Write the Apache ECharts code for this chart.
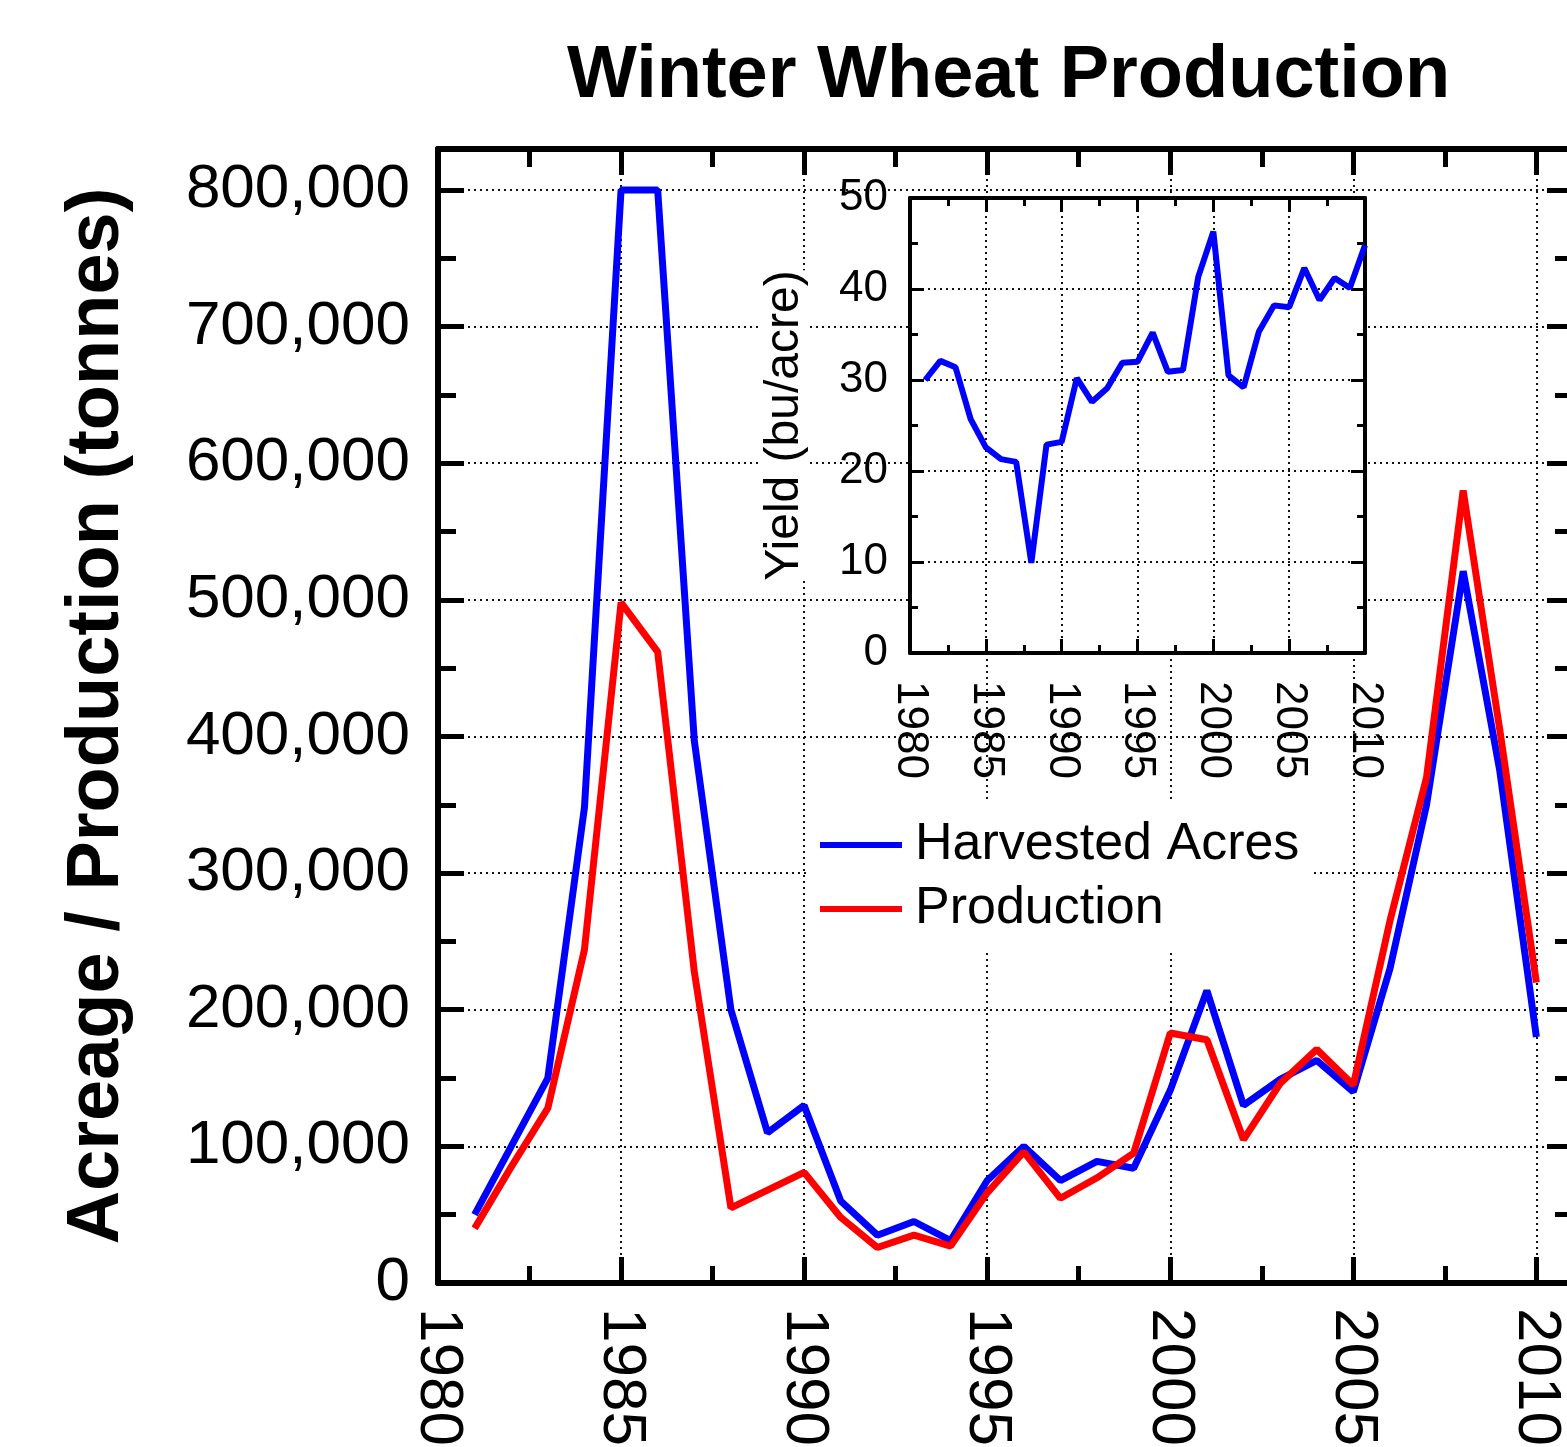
<!DOCTYPE html>
<html>
<head>
<meta charset="utf-8">
<title>Winter Wheat Production</title>
<script src="https://cdn.jsdelivr.net/npm/echarts@6/dist/echarts.min.js"></script>
<style>
  html, body { margin: 0; padding: 0; background: #fff; }
  #main { width: 1567px; height: 1447px; }
</style>
</head>
<body>
<div id="main"></div>
<script>
// data
const years = [1981, 1982, 1983, 1984, 1985, 1986, 1987, 1988, 1989, 1990,
               1991, 1992, 1993, 1994, 1995, 1996, 1997, 1998, 1999, 2000,
               2001, 2002, 2003, 2004, 2005, 2006, 2007, 2008, 2009, 2010];
const harvestedAcres = [50000, 100000, 150000, 348000, 800000, 800000, 397000, 200000, 110000, 130000,
                        60000, 35000, 45000, 31000, 75000, 100000, 75000, 89000, 84000, 141000,
                        214000, 130000, 149000, 163000, 140000, 230000, 350000, 521000, 375000, 180000];
const production = [40000, 85000, 128000, 244000, 498000, 462000, 228000, 55000, 68000, 81000,
                    48000, 26000, 35000, 27000, 66000, 96000, 62000, 77000, 95000, 183000,
                    178000, 105000, 146000, 171000, 145000, 265000, 370000, 580000, 405000, 220000];
const yieldBuAcre = [30.0, 32.1, 31.4, 25.7, 22.6, 21.3, 21.0, 9.9, 22.9, 23.2,
                     30.2, 27.6, 29.1, 31.9, 32.0, 35.2, 30.9, 31.1, 41.3, 46.3,
                     30.5, 29.2, 35.3, 38.2, 38.0, 42.3, 38.8, 41.2, 40.1, 44.8];
const seriesNames = ['Harvested Acres', 'Production'];

const FONT = 'Liberation Sans';
const dotted = { color: '#111', width: 2, type: [2, 4] };

function pairs(vals) {
    return years.map((y, i) => [y, vals[i]]);
}
function commas(v) {
    return String(v).replace(/\B(?=(\d{3})+(?!\d))/g, ',');
}

// one axis, ticks pointing inward; labels / grid lines only when asked
function axis(o) {
    return {
        type: 'value',
        gridIndex: o.grid,
        position: o.pos,
        min: o.min,
        max: o.max,
        interval: o.interval,
        z: o.z || 0,
        axisLine: { show: o.line !== false, onZero: false, lineStyle: { color: '#000', width: o.lw } },
        axisTick: { show: true, inside: true, length: o.tick, lineStyle: { color: '#000', width: o.tw } },
        minorTick: o.minor ? { show: true, splitNumber: 2, length: o.minor, lineStyle: { color: '#000', width: o.tw } } : { show: false },
        axisLabel: o.label ? Object.assign({ color: '#000', fontFamily: FONT }, o.label) : { show: false },
        splitLine: { show: !!o.split, lineStyle: dotted },
        name: o.name || '',
        nameLocation: 'middle',
        nameGap: o.nameGap,
        nameRotate: o.nameRotate,
        nameTextStyle: o.nameStyle
    };
}

let chart = echarts.init(document.getElementById('main'));

let option = {
    animation: false,
    backgroundColor: '#fff',
    title: {
        text: 'Winter Wheat Production',
        left: 562,
        top: 35,
        textStyle: { fontSize: 74, fontWeight: 'bold', fontFamily: FONT, color: '#000' }
    },
    legend: {
        data: seriesNames,
        orient: 'vertical',
        left: 808,
        top: 803,
        icon: 'rect',
        itemWidth: 82,
        itemHeight: 6,
        itemGap: 12,
        padding: [16, 12, 18, 12],
        backgroundColor: '#fff',
        z: 20,
        textStyle: { fontSize: 52, fontFamily: FONT, color: '#000', padding: [0, 0, 0, 8] }
    },
    grid: [
        // main plot, right side runs past the picture edge
        { left: 438, top: 149, width: 1135, height: 1134, outerBoundsMode: 'none' },
        // inset
        { left: 910, top: 198, width: 455, height: 455, outerBoundsMode: 'none',
          show: true, backgroundColor: '#fff', borderWidth: 0, z: 10 }
    ],
    xAxis: [
        axis({ grid: 0, pos: 'bottom', min: 1980, max: 2011, interval: 5, lw: 6, tick: 26, tw: 5, split: true,
               label: { fontSize: 62, rotate: -90, margin: 25, formatter: v => (v % 5 === 0 ? String(v) : '') } }),
        axis({ grid: 0, pos: 'bottom', min: 1980, max: 2011, interval: 2.5, line: false, tick: 17, tw: 5 }),
        axis({ grid: 0, pos: 'top', min: 1980, max: 2011, interval: 5, lw: 6, tick: 26, tw: 5 }),
        axis({ grid: 0, pos: 'top', min: 1980, max: 2011, interval: 2.5, line: false, tick: 18, tw: 5 }),
        // inset
        axis({ grid: 1, pos: 'bottom', min: 1980, max: 2010, interval: 5, lw: 4, tick: 14, tw: 3, minor: 8, split: true, z: 11,
               label: { fontSize: 44, rotate: -90, margin: 28, formatter: v => String(v) } }),
        axis({ grid: 1, pos: 'top', min: 1980, max: 2010, interval: 5, lw: 4, tick: 14, tw: 3, minor: 8, z: 11 })
    ],
    yAxis: [
        axis({ grid: 0, pos: 'left', min: 0, max: 830000, interval: 100000, lw: 6, tick: 26, tw: 5, split: true,
               label: { fontSize: 62, margin: 28, formatter: v => (v % 100000 === 0 ? commas(v) : '') },
               name: 'Acreage / Production (tonnes)', nameGap: 303, nameRotate: 90,
               nameStyle: { fontSize: 74, fontWeight: 'bold', fontFamily: FONT, color: '#000' } }),
        axis({ grid: 0, pos: 'left', min: 0, max: 830000, interval: 50000, line: false, tick: 18, tw: 5 }),
        axis({ grid: 0, pos: 'right', min: 0, max: 830000, interval: 100000, lw: 6, tick: 26, tw: 5 }),
        axis({ grid: 0, pos: 'right', min: 0, max: 830000, interval: 50000, line: false, tick: 18, tw: 5 }),
        // inset
        axis({ grid: 1, pos: 'left', min: 0, max: 50, interval: 10, lw: 4, tick: 14, tw: 3, minor: 8, split: true, z: 11,
               label: { fontSize: 44, margin: 22 },
               name: 'Yield (bu/acre)', nameGap: 101, nameRotate: 90,
               nameStyle: { fontSize: 48, fontFamily: FONT, color: '#000', backgroundColor: '#fff' } }),
        axis({ grid: 1, pos: 'right', min: 0, max: 50, interval: 10, lw: 4, tick: 14, tw: 3, minor: 8, z: 11 })
    ],
    series: [
        {
            name: seriesNames[0],
            type: 'line',
            xAxisIndex: 0,
            yAxisIndex: 0,
            symbol: 'none',
            data: pairs(harvestedAcres),
            lineStyle: { color: '#0000ff', width: 7 },
            itemStyle: { color: '#0000ff' }
        },
        {
            name: seriesNames[1],
            type: 'line',
            xAxisIndex: 0,
            yAxisIndex: 0,
            symbol: 'none',
            data: pairs(production),
            lineStyle: { color: '#ff0000', width: 7 },
            itemStyle: { color: '#ff0000' }
        },
        {
            name: 'Yield',
            type: 'line',
            xAxisIndex: 4,
            yAxisIndex: 4,
            symbol: 'none',
            z: 12,
            data: pairs(yieldBuAcre),
            lineStyle: { color: '#0000ff', width: 6 },
            itemStyle: { color: '#0000ff' }
        }
    ]
};
chart.setOption(option);
</script>
</body>
</html>
